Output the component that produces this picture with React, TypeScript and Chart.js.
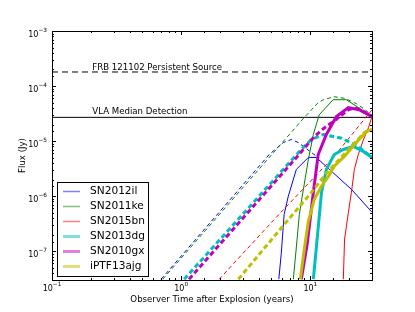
import React, { useEffect, useRef } from 'react';
import { Chart, registerables } from 'chart.js';

Chart.register(...registerables);

// ---- axis ranges and tick labels ----
const xMin = 0.1;
const xMax = 30;
const yMin = Math.pow(10, -7.5);
const yMax = 1e-3;
const xTickExponents = [-1, 0, 1];
const yTickExponents = [-7, -6, -5, -4, -3];

// ---- reference levels ----
const frbFlux = 1.8e-4;
const vlaFlux = 2.7e-5;
const frbLabel = 'FRB 121102 Persistent Source';
const vlaLabel = 'VLA Median Detection';
const annotationT = 0.205;

// ---- series names / colours ----
const seriesNames = ['SN2012il', 'SN2011ke', 'SN2015bn', 'SN2013dg', 'SN2010gx', 'iPTF13ajg'];
const seriesColors = ['#0000ff', '#008000', '#ff0000', '#00bfbf', '#bf00bf', '#bfbf00'];
const seriesWidths = [1, 1, 1, 3, 3, 3];

// ---- SN2012il ----
const sn2012ilDashT = [0.70, 4.8, 6.18, 7.12, 8.07, 10.2, 11.5];
const sn2012ilDashF = [3.1e-8, 5.7e-6, 9.4e-6, 1.07e-5, 9.4e-6, 6.2e-6, 5.0e-6];
const sn2012ilSolidT = [5.7, 5.95, 6.27, 6.75, 7.79, 9.65, 11.1, 20.8, 30];
const sn2012ilSolidF = [3.1e-8, 9e-8, 4.7e-7, 1.0e-6, 3.06e-6, 5.05e-6, 5.05e-6, 1.33e-6, 5.1e-7];

// ---- SN2011ke ----
const sn2011keDashT = [0.72, 8.98, 10.2, 11.4, 12.6, 15.3, 18.4, 22.7, 26.2, 30];
const sn2011keDashF = [3.1e-8, 2.7e-5, 3.7e-5, 4.9e-5, 5.65e-5, 6.4e-5, 6.0e-5, 4.8e-5, 3.8e-5, 2.9e-5];
const sn2011keSolidT = [7.38, 7.79, 8.22, 8.83, 9.65, 10.55, 11.7, 15.0, 19.0, 30];
const sn2011keSolidF = [3.1e-8, 1.19e-7, 4.7e-7, 1.33e-6, 4.65e-6, 1.32e-5, 3.0e-5, 5.65e-5, 5.65e-5, 2.8e-5];

// ---- SN2015bn ----
const sn2015bnDashT = [1.97, 5.45, 15.3, 30];
const sn2015bnDashF = [3.1e-8, 4.15e-7, 5.3e-6, 3.7e-5];
const sn2015bnSolidT = [18.0, 18.4, 19.7, 20.8, 21.9, 23.5, 25.7, 28.2, 30];
const sn2015bnSolidF = [3.1e-8, 1.66e-7, 5.1e-7, 1.18e-6, 3.06e-6, 5.7e-6, 1.05e-5, 1.76e-5, 2.8e-5];

// ---- SN2013dg ----
const sn2013dgDashT = [1.055, 8.5, 10.2, 12.6, 17.4, 23.5, 30];
const sn2013dgDashF = [3.1e-8, 7.05e-6, 1.07e-5, 1.32e-5, 1.13e-5, 8e-6, 5.05e-6];
const sn2013dgSolidT = [10.55, 11.1, 12.2, 13.3, 15.3, 18.0, 21.5, 25.7, 30];
const sn2013dgSolidF = [3.1e-8, 1.1e-7, 1.18e-6, 3.06e-6, 5.7e-6, 7.05e-6, 8e-6, 6.5e-6, 5.05e-6];

// ---- SN2010gx ----
const sn2010gxDashT = [1.15, 7.8, 10.7, 12.9, 15.9, 19.7, 21.5, 24.0, 30];
const sn2010gxDashF = [3.1e-8, 5.05e-6, 1.2e-5, 1.75e-5, 2.5e-5, 3.7e-5, 4.0e-5, 3.8e-5, 2.8e-5];
const sn2010gxSolidT = [8.51, 9.45, 10.55, 11.5, 13.3, 15.9, 19.7, 24.0, 30];
const sn2010gxSolidF = [3.1e-8, 1.35e-7, 1.18e-6, 5.7e-6, 1.32e-5, 2.8e-5, 4.05e-5, 3.7e-5, 2.8e-5];

// ---- iPTF13ajg ----
const iptf13ajgDashT = [2.77, 6.52, 9.65, 13.3, 20.8, 26.2, 30];
const iptf13ajgDashF = [3.1e-8, 3.4e-7, 1.0e-6, 2.6e-6, 8e-6, 1.43e-5, 1.62e-5];
const iptf13ajgSolidT = [8.36, 8.98, 9.65, 10.74, 12.2, 13.8, 15.3, 18.4, 22.7, 27.2, 30];
const iptf13ajgSolidF = [3.1e-8, 1.1e-7, 3.5e-7, 8.8e-7, 1.53e-6, 2.29e-6, 3.5e-6, 5.3e-6, 9.4e-6, 1.5e-5, 1.62e-5];

const dashSeries = [
  [sn2012ilDashT, sn2012ilDashF],
  [sn2011keDashT, sn2011keDashF],
  [sn2015bnDashT, sn2015bnDashF],
  [sn2013dgDashT, sn2013dgDashF],
  [sn2010gxDashT, sn2010gxDashF],
  [iptf13ajgDashT, iptf13ajgDashF],
];
const solidSeries = [
  [sn2012ilSolidT, sn2012ilSolidF],
  [sn2011keSolidT, sn2011keSolidF],
  [sn2015bnSolidT, sn2015bnSolidF],
  [sn2013dgSolidT, sn2013dgSolidF],
  [sn2010gxSolidT, sn2010gxSolidF],
  [iptf13ajgSolidT, iptf13ajgSolidF],
];

const FONT = '"DejaVu Sans", "Liberation Sans", sans-serif';

function isPow10(v: number) {
  const e = Math.log10(v);
  return Math.abs(e - Math.round(e)) < 1e-6;
}

function expText(e: number) {
  return e < 0 ? '\u2212' + String(-e) : String(e);
}

// draws "10" with a raised exponent; anchor: 'right' (y axis) or 'center' (x axis)
function drawPow(ctx: any, e: number, x: number, baseY: number, anchor: string) {
  ctx.font = '8px ' + FONT;
  const wBase = ctx.measureText('10').width;
  ctx.font = '5.8px ' + FONT;
  const ex = expText(e);
  const wExp = ctx.measureText(ex).width;
  const total = wBase + wExp;
  const left = anchor === 'right' ? x - total : x - total / 2;
  ctx.textAlign = 'left';
  ctx.textBaseline = 'alphabetic';
  ctx.font = '8px ' + FONT;
  ctx.fillText('10', left, baseY);
  ctx.font = '5.8px ' + FONT;
  ctx.fillText(ex, left + wBase, baseY - 4.3);
}

const overlayPlugin = {
  id: 'overlay',
  afterDraw(chart: any) {
    const { ctx, chartArea: a, scales } = chart;
    const xs = scales.x;
    const ys = scales.y;
    ctx.save();
    // frame
    ctx.strokeStyle = '#000';
    ctx.lineWidth = 1;
    ctx.strokeRect(a.left + 0.5, a.top + 0.5, a.right - a.left, a.bottom - a.top);
    // inward ticks
    ctx.beginPath();
    xs.ticks.forEach((t: any) => {
      if (t.value <= xMin * 1.0001 || t.value >= xMax * 0.9999) return;
      const px = Math.round(xs.getPixelForValue(t.value)) + 0.5;
      const len = isPow10(t.value) ? 4 : 2;
      ctx.moveTo(px, a.bottom);
      ctx.lineTo(px, a.bottom - len);
      ctx.moveTo(px, a.top);
      ctx.lineTo(px, a.top + len);
    });
    ys.ticks.forEach((t: any) => {
      if (t.value <= yMin * 1.0001 || t.value >= yMax * 0.9999) return;
      const py = Math.round(ys.getPixelForValue(t.value)) + 0.5;
      const len = isPow10(t.value) ? 4 : 2;
      ctx.moveTo(a.left, py);
      ctx.lineTo(a.left + len, py);
      ctx.moveTo(a.right, py);
      ctx.lineTo(a.right - len, py);
    });
    ctx.stroke();

    // tick labels
    ctx.fillStyle = '#000';
    xTickExponents.forEach((e) => {
      const px = xs.getPixelForValue(Math.pow(10, e));
      drawPow(ctx, e, px, a.bottom + 10.5, 'center');
    });
    yTickExponents.forEach((e) => {
      const py = ys.getPixelForValue(Math.pow(10, e));
      drawPow(ctx, e, a.left - 5, py + 5.5, 'right');
    });

    // annotations
    ctx.fillStyle = '#000';
    ctx.font = '8.6px ' + FONT;
    ctx.textAlign = 'left';
    ctx.textBaseline = 'alphabetic';
    const ax = xs.getPixelForValue(annotationT);
    ctx.fillText(frbLabel, ax, ys.getPixelForValue(frbFlux) - 2);
    ctx.fillText(vlaLabel, ax, ys.getPixelForValue(vlaFlux) - 3);

    // legend
    const lx = a.left + 5;
    const lw = 91;
    const lh = 94;
    const ly = a.bottom - 4 - lh;
    ctx.fillStyle = '#fff';
    ctx.fillRect(lx, ly, lw, lh);
    ctx.strokeStyle = '#000';
    ctx.lineWidth = 1;
    ctx.strokeRect(lx + 0.5, ly + 0.5, lw, lh);
    seriesNames.forEach((name, i) => {
      const yy = ly + 9.5 + i * 15;
      ctx.save();
      ctx.globalAlpha = 0.5;
      ctx.strokeStyle = seriesColors[i];
      ctx.lineWidth = seriesWidths[i] > 1 ? 3 : 1.5;
      ctx.beginPath();
      ctx.moveTo(lx + 6, yy);
      ctx.lineTo(lx + 23, yy);
      ctx.stroke();
      ctx.restore();
      ctx.fillStyle = '#000';
      ctx.font = '10.6px ' + FONT;
      ctx.textAlign = 'left';
      ctx.textBaseline = 'middle';
      ctx.fillText(name, lx + 33, yy);
    });
    ctx.restore();
  },
};

function makeDataset(t: number[], f: number[], color: string, width: number, dash: number[]) {
  return {
    data: t.map((x, i) => ({ x, y: f[i] })),
    borderColor: color,
    borderWidth: width,
    borderDash: dash,
    pointRadius: 0,
    fill: false,
    tension: 0,
  };
}

export default function App() {
  const ref = useRef<HTMLCanvasElement | null>(null);
  useEffect(() => {
    if (!ref.current) return;
    const datasets: any[] = [];
    // index 0 is drawn on top in Chart.js; push thick ones first
    for (let i = seriesNames.length - 1; i >= 0; i--) {
      const [st, sf] = solidSeries[i];
      datasets.push(makeDataset(st, sf, seriesColors[i], seriesWidths[i], []));
      const [dt, df] = dashSeries[i];
      datasets.push(makeDataset(dt, df, seriesColors[i], seriesWidths[i], seriesWidths[i] > 1 ? [5, 3] : [4, 3]));
    }
    datasets.push(makeDataset([xMin, xMax], [frbFlux, frbFlux], '#000', 1, [6, 4]));
    datasets.push(makeDataset([xMin, xMax], [vlaFlux, vlaFlux], '#000', 1, []));

    const chart = new Chart(ref.current, {
      type: 'line',
      data: { datasets },
      options: {
        responsive: false,
        animation: false,
        events: [],
        layout: { padding: { left: 0, top: 31, right: 43, bottom: 0 } },
        plugins: { legend: { display: false }, tooltip: { enabled: false } },
        scales: {
          x: {
            type: 'logarithmic',
            min: xMin,
            max: xMax,
            grid: { display: false },
            border: { display: false },
            afterFit: (s: any) => { s.height = 32; },
            ticks: { display: false, autoSkip: false },
            title: {
              display: true,
              text: 'Observer Time after Explosion (years)',
              color: '#000',
              font: { family: FONT, size: 8.6 },
              padding: { top: 0, bottom: 7 },
            },
          },
          y: {
            type: 'logarithmic',
            min: yMin,
            max: yMax,
            grid: { display: false },
            border: { display: false },
            afterFit: (s: any) => { s.width = 52; },
            ticks: { display: false, autoSkip: false },
            title: {
              display: true,
              text: 'Flux (Jy)',
              color: '#000',
              font: { family: FONT, size: 8.6 },
              padding: { top: 18, bottom: 0 },
            },
          },
        },
      },
      plugins: [overlayPlugin],
    });
    return () => chart.destroy();
  }, []);

  return (
    <div style={{ position: 'fixed', left: 0, top: 0, width: 415, height: 312, background: '#fff' }}>
      <canvas ref={ref} width={415} height={312} />
    </div>
  );
}
